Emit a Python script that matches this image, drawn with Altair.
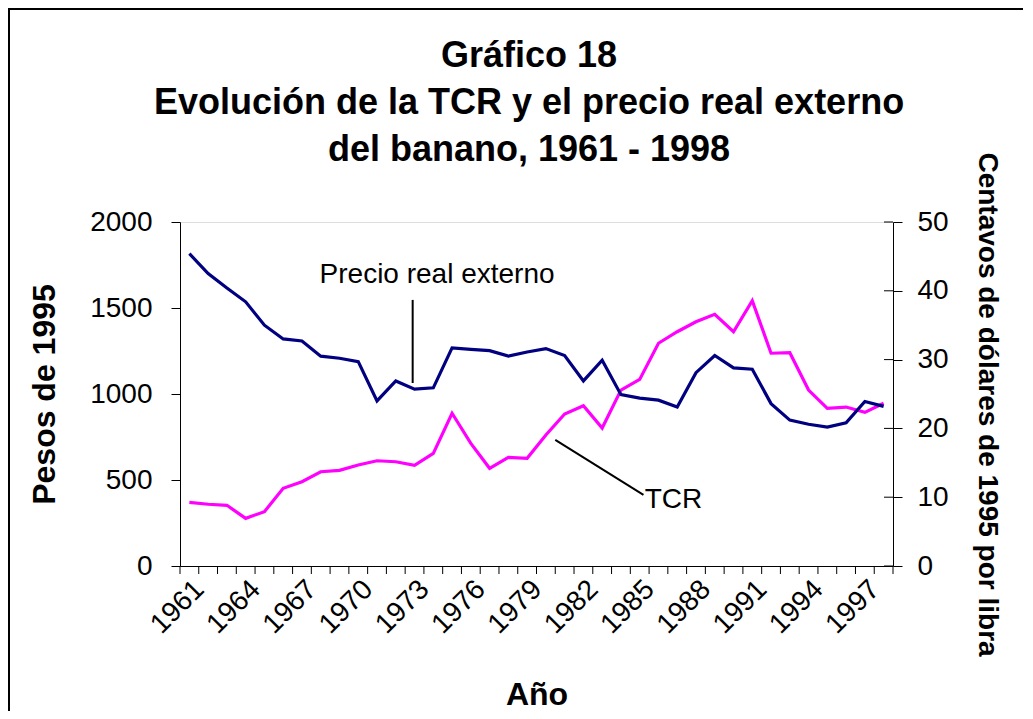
import altair as alt
import pandas as pd

years = list(range(1961, 1999))
tcr = [370, 359, 353, 277, 316, 452, 490, 548, 556, 587, 612, 606, 585, 655, 888, 713,
       568, 632, 626, 762, 884, 932, 802, 1023, 1085, 1295, 1362, 1420, 1463, 1362, 1543,
       1237, 1240, 1023, 917, 924, 893, 946]
precio = [45.4, 42.5, 40.4, 38.4, 35.0, 33.0, 32.7, 30.5, 30.2, 29.7, 24.0, 26.9, 25.7,
          25.9, 31.7, 31.5, 31.3, 30.5, 31.1, 31.6, 30.6, 26.9, 29.9, 24.9, 24.4, 24.1,
          23.1, 28.1, 30.6, 28.8, 28.6, 23.6, 21.2, 20.6, 20.2, 20.8, 23.9, 23.2]
label_years = [1961, 1964, 1967, 1970, 1973, 1976, 1979, 1982, 1985, 1988, 1991, 1994, 1997]
tick_bounds = [y - 0.5 for y in range(1961, 2000)]
left_ticks = [0, 500, 1000, 1500, 2000]
right_ticks = [0, 10, 20, 30, 40, 50]
title_lines = ["Gráfico 18", "Evolución de la TCR y el precio real externo",
               "del banano, 1961 - 1998"]
ann_text = ["Precio real externo", "TCR"]
ann_x = [1974.2, 1986.8]
ann_y = [1692, 384]
ann_line_x = [1972.9, 1980.5]
ann_line_x2 = [1972.9, 1985.2]
ann_line_y = [1547, 733]
ann_line_y2 = [1064, 413]

W, H = 713, 344
FONT = "Liberation Sans"
xscale = alt.Scale(domain=[1960.5, 1998.5], nice=False, zero=False)
lscale = alt.Scale(domain=[0, 2000], nice=False)
rscale = alt.Scale(domain=[0, 50], nice=False)

df = pd.DataFrame({"year": years, "tcr": tcr, "precio": precio})
ann = pd.DataFrame({"t": ann_text, "x": ann_x, "y": ann_y})
annl = pd.DataFrame({"x": ann_line_x, "x2": ann_line_x2, "y": ann_line_y, "y2": ann_line_y2})
tb = pd.DataFrame({"b": tick_bounds})
rt = pd.DataFrame({"v": right_ticks})
dummy = pd.DataFrame({"a": [0]})

xaxis = alt.Axis(values=label_years, labelAngle=-45, tickSize=0, labelFontSize=28,
                 labelFont=FONT, labelColor="black", labelPadding=9, title="Año",
                 titleFontSize=32, titleFont=FONT, titleFontWeight="bold", titleColor="black",
                 titleX=W / 2, titleY=128, titleBaseline="middle", titleAlign="center",
                 domainColor="black", format="d", grid=False, labelOverlap=False)


def X(field):
    return alt.X(field, scale=xscale, axis=xaxis)


tcr_line = alt.Chart(df).mark_line(color="#FF00FF", strokeWidth=3.2).encode(
    x=X("year:Q"),
    y=alt.Y("tcr:Q", scale=lscale,
            axis=alt.Axis(values=left_ticks, orient="left", tickSize=9, tickColor="black",
                          domainColor="black", labelFontSize=28, labelFont=FONT,
                          labelColor="black", labelPadding=19, grid=False, format="d",
                          title="Pesos de 1995", titleFontSize=32, titleFont=FONT,
                          titleFontWeight="bold", titleColor="black", titleX=-136,
                          titleY=H / 2, titleAngle=-90, titleAlign="center",
                          titleBaseline="middle")),
)

precio_line = alt.Chart(df).mark_line(color="#000080", strokeWidth=3.2).encode(
    x=X("year:Q"),
    y=alt.Y("precio:Q", scale=rscale,
            axis=alt.Axis(values=right_ticks, orient="right", tickSize=9, tickColor="black",
                          domainColor="black", labelFontSize=28, labelFont=FONT,
                          labelColor="black", labelPadding=15, grid=False,
                          title="Centavos de dólares de 1995 por libra", titleFontSize=28,
                          titleFont=FONT, titleFontWeight="bold", titleColor="black",
                          titleX=93, titleY=H / 2 + 10, titleAngle=90, titleAlign="center",
                          titleBaseline="middle")),
)

ann_t = alt.Chart(ann).mark_text(fontSize=28, font=FONT, color="black").encode(
    x=X("x:Q"), y=alt.Y("y:Q", scale=lscale, axis=None), text="t:N")
ann_r = alt.Chart(annl).mark_rule(color="black", strokeWidth=2).encode(
    x=X("x:Q"), x2="x2:Q", y=alt.Y("y:Q", scale=lscale, axis=None), y2="y2:Q")
xt = alt.Chart(tb).mark_rule(color="black", strokeWidth=1).encode(
    x=X("b:Q"), y=alt.value(H), y2=alt.value(H + 8))
rin = alt.Chart(rt).mark_rule(color="black", strokeWidth=1).encode(
    y=alt.Y("v:Q", scale=rscale, axis=None), x=alt.value(W - 9), x2=alt.value(W))
border_l = alt.Chart(dummy).mark_rule(color="black", strokeWidth=2).encode(
    x=alt.value(-171), y=alt.value(-213), y2=alt.value(700))
border_t = alt.Chart(dummy).mark_rule(color="black", strokeWidth=2).encode(
    x=alt.value(-172), x2=alt.value(900), y=alt.value(-213))

title_y = [-166, -119, -72]
titles = [
    alt.Chart(dummy).mark_text(text=t, fontSize=36, font=FONT, fontWeight="bold",
                               color="black", align="center", baseline="middle").encode(
        x=alt.value(349), y=alt.value(ty))
    for t, ty in zip(title_lines, title_y)
]

chart = alt.layer(tcr_line, precio_line, ann_t, ann_r, xt, rin, border_l, border_t,
                  *titles).resolve_scale(y="independent").properties(
    width=W, height=H,
    autosize=alt.AutoSizeParams(type="none"),
    padding={"left": 172, "top": 214, "right": 130, "bottom": 145},
).configure_view(stroke="#808080", strokeWidth=1).configure(background="white")

chart.save("out.html", embed_options={"renderer": "svg", "actions": False})
